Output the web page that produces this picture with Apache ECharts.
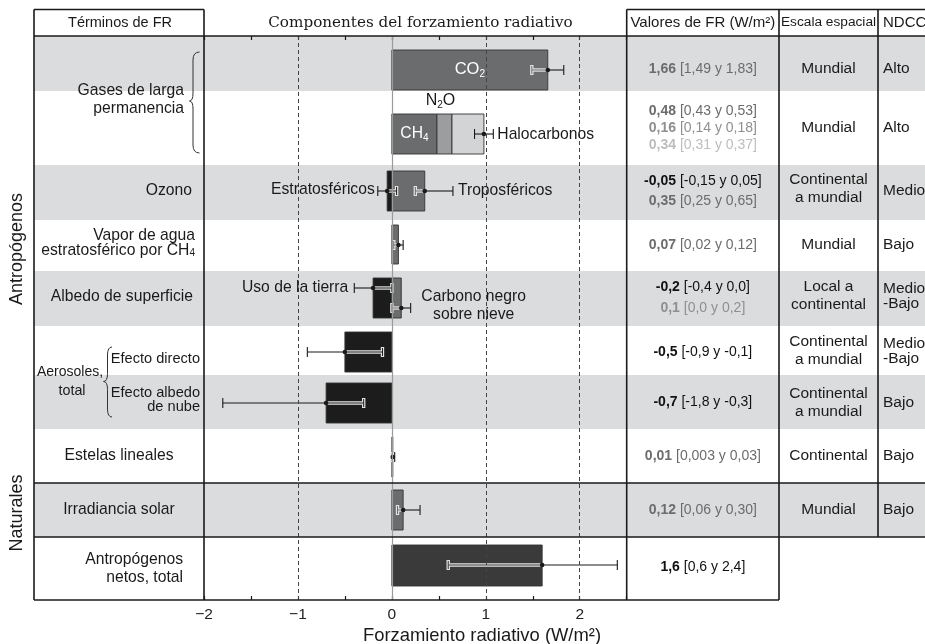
<!DOCTYPE html>
<html>
<head>
<meta charset="utf-8">
<script src="https://cdn.jsdelivr.net/npm/echarts@6/dist/echarts.min.js"></script>
<style>
  html, body { margin: 0; padding: 0; background: #fff; }
  #chart { width: 925px; height: 644px; }
</style>
</head>
<body>
<div id="chart"></div>
<script>
// ---- Forcing terms (W/m²): best estimate with likely range ----
const terms = ['CO2', 'CH4', 'N2O', 'Halocarbonos', 'Ozono estratosférico', 'Ozono troposférico',
  'Vapor de agua estratosférico', 'Uso de la tierra', 'Carbono negro sobre nieve',
  'Aerosoles efecto directo', 'Aerosoles efecto albedo de nube', 'Estelas lineales',
  'Irradiancia solar', 'Antropógenos netos, total'];
const best = [1.66, 0.48, 0.16, 0.34, -0.05, 0.35, 0.07, -0.2, 0.1, -0.5, -0.7, 0.01, 0.12, 1.6];
const low  = [1.49, 0.43, 0.14, 0.31, -0.15, 0.25, 0.02, -0.4, 0.0, -0.9, -1.8, 0.003, 0.06, 0.6];
const high = [1.83, 0.53, 0.18, 0.37, 0.05, 0.65, 0.12, 0.0, 0.2, -0.1, -0.3, 0.03, 0.30, 2.4];
const digits = [2, 2, 2, 2, 2, 2, 2, 1, 1, 1, 1, 2, 2, 1];

// Spatial scale and confidence level per table row
const spatial = ['Mundial', 'Mundial', 'Continental\na mundial', 'Mundial', 'Local a\ncontinental',
  'Continental\na mundial', 'Continental\na mundial', 'Continental', 'Mundial'];
const confidence = ['Alto', 'Alto', 'Medio', 'Bajo', 'Medio\n-Bajo', 'Medio\n-Bajo', 'Bajo', 'Bajo', 'Bajo'];

// Axis
const xMin = -2, xMax = 2.5, xStep = 0.5;
const refLines = [-1, 1, 2];

// ---- Layout (page pixels on the vertical axis) ----
const rowEdges = [36, 91, 165, 220, 271, 326, 375, 429, 483, 537, 600];
const shadedRows = [0, 2, 4, 6, 8];
const barBand = [[50, 90], [114, 154], [114, 154], [114, 154], [171, 211], [171, 211], [225, 264],
  [278, 318], [278, 318], [332, 372], [383, 423], [437, 477], [490, 530], [545, 586]];
const stackFrom = [-1, -1, 1, 2, -1, -1, -1, -1, -1, -1, -1, -1, -1, -1];
const errOf = [[0], null, null, [1, 2, 3], [4], [5], [6], [7], [8], [9], [10], [11], [12], [13]];
const errLine = [70, null, null, 134, 191, 191, 245, 288, 308, 352, 403, 457, 510, 565];
const valY = [69, 111, 128, 145, 181, 201, 245, 287, 308, 352, 402, 456, 510, 567];
const groupY = [69, 128, 189, 245, 296, 351, 403, 456, 510];

const barColor = ['#6b6c6e', '#6b6c6e', '#9c9d9f', '#d3d4d6', '#1c1c1c', '#6b6c6e', '#6b6c6e',
  '#1c1c1c', '#6b6c6e', '#1c1c1c', '#1c1c1c', '#6b6c6e', '#6b6c6e', '#3a3a3b'];
const textColor = ['#6b6c6e', '#6b6c6e', '#8e8f91', '#bcbdbf', '#111', '#6b6c6e', '#6b6c6e',
  '#111', '#8e8f91', '#111', '#111', '#6b6c6e', '#6b6c6e', '#111'];
const lightBar = [false, false, false, true, false, false, false, false, false, false, false, false, false, false];

const SANS = '"Liberation Sans", Arial, Helvetica, sans-serif';
const SERIF = '"DejaVu Serif", "Liberation Serif", serif';
const INK = '#1a1a1a';
const LABEL = 15.7;

const chart = echarts.init(document.getElementById('chart'));

// bar extents, with the stacked long-lived gases
const base = [];
best.forEach((v, i) => { base[i] = stackFrom[i] < 0 ? 0 : base[stackFrom[i]] + best[stackFrom[i]]; });
const barData = best.map((v, i) => [base[i], base[i] + v, barBand[i][0], barBand[i][1]]);

// error bars (the halocarbon whisker covers the summed non-CO2 gases)
const errTerm = [];
const errData = [];
errOf.forEach((list, i) => {
  if (!list) return;
  const sum = arr => list.reduce((t, k) => t + arr[k], 0);
  errTerm.push(i);
  errData.push([sum(low), sum(best), sum(high), errLine[i]]);
});

function seg(x1, y1, x2, y2, color, w) {
  return { type: 'line', shape: { x1, y1, x2, y2 }, style: { stroke: color, lineWidth: w } };
}

function renderErr(params, api) {
  const i = errTerm[params.dataIndex];
  const y = api.value(3);
  const pl = api.coord([api.value(0), y]);
  const pm = api.coord([api.value(1), y]);
  const ph = api.coord([api.value(2), y]);
  const yy = pm[1];
  const inner = api.value(1) >= 0 ? pl : ph;
  const outer = api.value(1) >= 0 ? ph : pl;
  const cap = 5;
  const kids = [];
  if (lightBar[i]) {
    kids.push(seg(inner[0], yy, pm[0], yy, INK, 1.1), seg(inner[0], yy - cap, inner[0], yy + cap, INK, 1.1));
  } else {
    kids.push(seg(inner[0], yy, pm[0], yy, '#e4e4e4', 3.4), seg(inner[0], yy - cap, inner[0], yy + cap, '#e4e4e4', 3.4));
    kids.push(seg(inner[0], yy, pm[0], yy, barColor[i], 1), seg(inner[0], yy - cap + 1, inner[0], yy + cap - 1, barColor[i], 1));
  }
  kids.push(seg(pm[0], yy, outer[0], yy, INK, 1.1), seg(outer[0], yy - cap, outer[0], yy + cap, INK, 1.1));
  kids.push({ type: 'circle', shape: { cx: pm[0], cy: yy, r: 2.3 }, style: { fill: INK } });
  return { type: 'group', children: kids };
}

chart.setOption({
  animation: false,
  grid: { left: 204, top: 36, width: 422.7, height: 564, containLabel: false },
  xAxis: [{
    type: 'value', min: xMin, max: xMax, interval: xStep, position: 'bottom',
    axisLine: { show: false }, splitLine: { show: false },
    axisTick: { show: true, inside: true, length: 4, lineStyle: { color: INK, width: 1.2 } },
    axisLabel: {
      fontFamily: SANS, fontSize: 15.5, color: '#222', margin: 7,
      formatter: v => (Number.isInteger(v) && v < xMax) ? (v < 0 ? '\u2212' + (-v) : String(v)) : ''
    }
  }, {
    type: 'value', min: xMin, max: xMax, interval: xStep, position: 'top',
    axisLine: { show: false }, splitLine: { show: false }, axisLabel: { show: false },
    axisTick: { show: true, inside: true, length: 4, lineStyle: { color: INK, width: 1.2 } }
  }],
  yAxis: { type: 'value', min: 36, max: 600, inverse: true, show: false },
  series: [{
    // shaded table rows, across the whole figure
    type: 'custom', z: 0, silent: true,
    data: shadedRows.map(r => [0, rowEdges[r], rowEdges[r + 1]]),
    renderItem(params, api) {
      const t = api.coord([0, api.value(1)])[1];
      const b = api.coord([0, api.value(2)])[1];
      return { type: 'rect', shape: { x: 34, y: t, width: 891, height: b - t }, style: { fill: '#dbdcdd' } };
    }
  }, {
    type: 'custom', z: 2, silent: true,
    data: barData,
    renderItem(params, api) {
      const p0 = api.coord([api.value(0), api.value(2)]);
      const p1 = api.coord([api.value(1), api.value(3)]);
      const x = Math.min(p0[0], p1[0]);
      return {
        type: 'rect',
        shape: { x, y: p0[1], width: Math.max(Math.abs(p1[0] - p0[0]), 0.8), height: p1[1] - p0[1] },
        style: { fill: barColor[params.dataIndex], stroke: '#333', lineWidth: 0.9 }
      };
    }
  }, {
    type: 'line', z: 3, data: [], silent: true,
    markLine: {
      silent: true, symbol: 'none', label: { show: false },
      data: [{ xAxis: 0, lineStyle: { type: 'solid', color: '#9b9b9b', width: 1.2 } }]
        .concat(refLines.map(v => ({ xAxis: v, lineStyle: { type: [4, 3], color: '#444', width: 1 } })))
    }
  }, {
    type: 'custom', z: 4, silent: true,
    data: errData,
    renderItem: renderErr
  }]
});

// ---- Table frame, labels and annotations ----
const px = v => chart.convertToPixel({ xAxisIndex: 0 }, v);
const bottomY = rowEdges[rowEdges.length - 1];

function decimals(v) { const s = String(v); const k = s.indexOf('.'); return k < 0 ? 0 : s.length - k - 1; }
function fmt(v, d) { return v.toFixed(Math.max(d, decimals(v))).replace('.', ','); }

// "CO_2" -> rich text with a subscript digit
function chem(s) {
  return ('{m|' + s.replace(/_(\d)/g, '}{s|$1}{m|') + '}').replace(/\{m\|\}/g, '');
}
function text(str, x, y, o) {
  o = o || {};
  const size = o.size || LABEL;
  const fill = o.fill || INK;
  const lh = o.lh || Math.round(size * 1.2);
  const family = o.family || SANS;
  const el = {
    type: 'text', x, y, z: 10, silent: true,
    style: {
      text: chem(str), align: o.align || 'center', verticalAlign: 'middle',
      textAlign: o.align || 'center', textVerticalAlign: 'middle',
      rich: {
        m: { fontSize: size, fontFamily: family, fill, lineHeight: lh, fontWeight: o.weight || 'normal' },
        s: { fontSize: Math.round(size * 0.62), fontFamily: family, fill, lineHeight: Math.round(lh * 0.55), verticalAlign: 'bottom' }
      }
    }
  };
  if (o.rotation) el.rotation = o.rotation;
  return el;
}
function hline(y, x1, x2, w) { return { type: 'line', z: 9, silent: true, shape: { x1, y1: y, x2, y2: y }, style: { stroke: INK, lineWidth: w || 1.6 } }; }
function vline(x, y1, y2, w) { return { type: 'line', z: 9, silent: true, shape: { x1: x, y1, x2: x, y2 }, style: { stroke: INK, lineWidth: w || 1.6 } }; }
// curly brace opening to the right, tip pointing left
function brace(xEnd, xBody, xTip, yTop, yMid, yBot) {
  const r = 8;
  const st = { stroke: '#333', lineWidth: 1, fill: null };
  const q = (x1, y1, cx, cy, x2, y2) => ({ type: 'bezierCurve', shape: { x1, y1, x2, y2, cpx1: cx, cpy1: cy }, style: st });
  return {
    type: 'group', z: 9, silent: true,
    children: [
      q(xEnd, yTop, xBody, yTop, xBody, yTop + r),
      { type: 'line', shape: { x1: xBody, y1: yTop + r, x2: xBody, y2: yMid - r }, style: st },
      q(xBody, yMid - r, xBody, yMid, xTip, yMid),
      q(xTip, yMid, xBody, yMid, xBody, yMid + r),
      { type: 'line', shape: { x1: xBody, y1: yMid + r, x2: xBody, y2: yBot - r }, style: st },
      q(xBody, yBot - r, xBody, yBot, xEnd, yBot)
    ]
  };
}

const colL = 34, colTerm = 204, colPlot = 626.7, colVal = 779, colScale = 878, colEnd = 925, headTop = 9.5, headBot = 36;
const g = [];

// frame
g.push(hline(headTop, colL, colTerm), hline(headTop, colPlot, colEnd), hline(headBot, colL, colEnd));
g.push(hline(rowEdges[8], colL, colEnd), hline(rowEdges[9], colL, colEnd), hline(bottomY, colL, colVal));
g.push(vline(colL, headTop, bottomY), vline(colTerm, headTop, bottomY), vline(colPlot, headTop, bottomY),
  vline(colVal, headTop, bottomY), vline(colScale, headTop, rowEdges[9]));

// header
g.push(text('Términos de FR', 120, 23, { size: 14.5 }));
g.push(text('Componentes del forzamiento radiativo', 420.5, 23, { size: 15.2, family: SERIF }));
g.push(text('Valores de FR (W/m²)', (colPlot + colVal) / 2, 22.5, { size: 15 }));
g.push(text('Escala espacial', (colVal + colScale) / 2, 22.5, { size: 13.7 }));
g.push(text('NDCC', colScale + 5, 22.5, { size: 15, align: 'left' }));

// group labels on the far left
g.push(text('Antropógenos', 17, 249, { size: 18, rotation: Math.PI / 2 }));
g.push(text('Naturales', 17, 513, { size: 18, rotation: Math.PI / 2 }));

// row labels
g.push(text('Gases de larga\npermanencia', 184, 99.5, { align: 'right', lh: 17.5 }));
g.push(brace(199.5, 193, 189.5, 52, 101, 153));
g.push(text('Ozono', 192, 191, { align: 'right' }));
g.push(text('Vapor de agua\nestratosférico por CH_4', 195, 243.5, { align: 'right', lh: 15 }));
g.push(text('Albedo de superficie', 193, 297, { align: 'right' }));
g.push(text('Aerosoles,', 37, 372, { align: 'left', size: 14 }));
g.push(text('total', 72, 391, { size: 14.3 }));
g.push(brace(112, 107.5, 103.5, 347, 381.5, 417));
g.push(text('Efecto directo', 200, 359, { align: 'right', size: 14.6 }));
g.push(text('Efecto albedo\nde nube', 200, 400, { align: 'right', size: 14.6, lh: 14.6 }));
g.push(text('Estelas lineales', 119, 456));
g.push(text('Irradiancia solar', 119, 510));
g.push(text('Antropógenos\nnetos, total', 183, 569, { align: 'right', lh: 18 }));

// annotations inside the plot
const mid = i => (barData[i][0] + barData[i][1]) / 2;
const errIdx = i => errTerm.indexOf(i);
g.push(text('CO_2', px(mid(0)), 69, { size: 16.5, fill: '#fff' }));
g.push(text('CH_4', px(mid(1)), 134, { fill: '#fff' }));
g.push(text('N_2O', px(mid(2)) - 4, 101, { size: 16 }));
g.push(text('Halocarbonos', px(errData[errIdx(3)][2]) + 4, 135, { align: 'left' }));
g.push(text('Estratosféricos', px(low[4]) - 3, 190, { align: 'right' }));
g.push(text('Troposféricos', px(high[5]) + 5, 191, { align: 'left' }));
g.push(text('Uso de la tierra', px(low[7]) - 6, 288, { align: 'right' }));
g.push(text('Carbono negro\nsobre nieve', px(high[8]) + 63, 306, { lh: 18 }));

// values column
best.forEach((v, i) => {
  const rng = ' [' + fmt(low[i], digits[i]) + ' y ' + fmt(high[i], digits[i]) + ']';
  const c = textColor[i];
  g.push({
    type: 'text', x: (colPlot + colVal) / 2, y: valY[i], z: 10, silent: true,
    style: {
      text: '{b|' + fmt(v, digits[i]) + '}{r|' + rng + '}',
      align: 'center', verticalAlign: 'middle', textAlign: 'center', textVerticalAlign: 'middle',
      rich: {
        b: { fontSize: 14, fontFamily: SANS, fontWeight: 'bold', fill: c },
        r: { fontSize: 14, fontFamily: SANS, fill: c }
      }
    }
  });
});

// spatial scale and confidence columns
spatial.forEach((s, k) => g.push(text(s, (colVal + colScale) / 2, groupY[k], { size: 15.5, lh: 18 })));
confidence.forEach((s, k) => g.push(text(s, colScale + 5, groupY[k] + (s.indexOf('\n') < 0 && k === 2 ? 2 : 0), { size: 15.5, align: 'left', lh: 15 })));

// axis title
g.push(text('Forzamiento radiativo (W/m²)', 482, 636, { size: 18.4 }));

chart.setOption({ graphic: g });
</script>
</body>
</html>
